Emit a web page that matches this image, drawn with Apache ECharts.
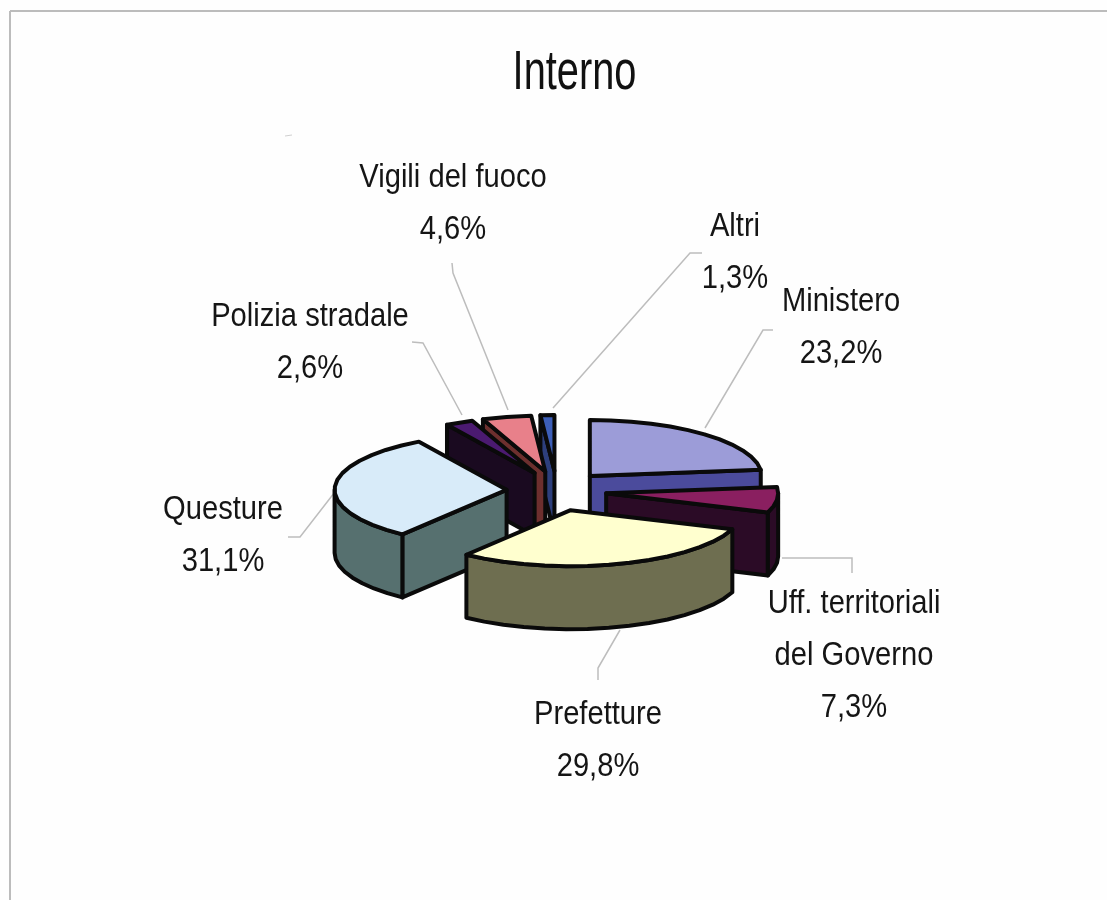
<!DOCTYPE html>
<html><head><meta charset="utf-8">
<style>html,body{margin:0;padding:0;background:#fff}#c{width:1107px;height:900px}</style>
<script src="https://cdn.jsdelivr.net/npm/echarts@6/dist/echarts.min.js"></script>
</head><body><div id="c"></div>
<script>
// ---- data ----
const categories = ['Ministero', 'Uff. territoriali\ndel Governo', 'Prefetture', 'Questure', 'Polizia stradale', 'Vigili del fuoco', 'Altri'];
const shares = [23.2, 7.3, 29.8, 31.1, 2.6, 4.6, 1.3];
// ---- styles ----
const topColors  = ['#9c9cd8', '#8a1f60', '#ffffcf', '#d8ebf9', '#4b1a70', '#e8808a', '#3d5fb8'];
const sideColors = ['#4b4b9c', '#2b0b26', '#6e6e50', '#56706f', '#1a0a20', '#6d2f2e', '#2d3f7c'];
const depthRank  = [0, 4, 6, 5, 3, 2, 1];
// label anchors (centre of the text block) and leader-line routes
const labelAt = [[841, 328], [854, 656], [598, 741], [223, 536], [310, 343], [453, 204], [735, 253]];
const leaders = [
  [[773,330],[763,330],[705,428]],
  [[782,558],[852,558],[852,573]],
  [[620,630],[598,668],[598,680]],
  [[338,488],[300,537],[288,537]],
  [[412,342],[423,343],[462,415]],
  [[452,263],[453,273],[508,410]],
  [[702,253],[690,253],[553,408]]
];
// 3-D projection of the exploded pie
const cx = 556.5, cy = 491, rx = 172, ry = 56, ex = 50, ey = 20, depth = 63, stepDeg = 7;
const total = shares.reduce(function (a, b) { return a + b; }, 0);
const rad = Math.PI / 180;

function pt(ax, ay, r, deg, dz) {
  return [ax + r * rx * Math.sin(deg * rad), ay - r * ry * Math.cos(deg * rad) + (dz || 0)];
}
function arc(ax, ay, a, b, dz) {
  const out = [];
  const n = Math.max(1, Math.round((b - a) / stepDeg));
  for (let i = 0; i <= n; i++) out.push(pt(ax, ay, 1, a + (b - a) * i / n, dz));
  return out;
}
const strokeStyle = function (fill) {
  return { fill: fill, stroke: '#0a0a0a', lineWidth: 4, lineJoin: 'round' };
};
function poly(points, fill, z) {
  return { type: 'polygon', shape: { points: points }, style: strokeStyle(fill), z2: z };
}

function renderItem(params, api) {
  const i = params.dataIndex;
  let before = 0;
  for (let k = 0; k < i; k++) before += shares[k];
  const val = api.value(0);
  const a = before / total * 360, b = (before + val) / total * 360, mid = (a + b) / 2;
  const ax = cx + ex * Math.sin(mid * rad), ay = cy - ey * Math.cos(mid * rad);
  const base = 10 + depthRank[i] * 10;
  const kids = [];

  // radial cut faces that look toward the viewer
  const faceAt = function (deg, z) {
    const o = pt(ax, ay, 1, deg);
    kids.push(poly([[ax, ay], o, [o[0], o[1] + depth], [ax, ay + depth]], sideColors[i], z));
  };
  if (Math.sin(a * rad) < 0) faceAt(a, base);
  if (Math.sin(b * rad) > 0) faceAt(b, base);

  // outer wall: only the front half of the rim
  const wa = Math.max(a, 90), wb = Math.min(b, 270);
  if (wb > wa) {
    const t = arc(ax, ay, wa, wb, 0), u = arc(ax, ay, wa, wb, depth).reverse();
    kids.push(poly(t.concat(u), sideColors[i], base + 1));
  }
  // top face
  kids.push(poly([[ax, ay]].concat(arc(ax, ay, a, b, 0)), topColors[i], base + 2));

  // leader and label
  kids.push({ type: 'polyline', shape: { points: leaders[i] }, style: { fill: null, stroke: '#bdbdbd', lineWidth: 1.5 }, z2: 1 });
  kids.push({
    type: 'text', x: labelAt[i][0], y: labelAt[i][1], scaleX: 0.87, z2: 200,
    style: {
      text: api.value(1) + '\n' + val.toFixed(1).replace('.', ',') + '%',
      fill: '#151515', align: 'center', verticalAlign: 'middle',
      fontFamily: '"Liberation Sans", Arial, sans-serif', fontSize: 33.5, lineHeight: 52
    }
  });
  return { type: 'group', children: kids };
}

const chart = echarts.init(document.getElementById('c'), null, { renderer: 'canvas', width: 1107, height: 900 });
const frame = { stroke: '#bcbcbc', lineWidth: 2 };
chart.setOption({
  animation: false,
  backgroundColor: '#fefefe',
  graphic: [
    { type: 'line', shape: { x1: 10, y1: 11, x2: 1107, y2: 11 }, style: frame },
    { type: 'line', shape: { x1: 10, y1: 11, x2: 10, y2: 900 }, style: frame },
    { type: 'line', shape: { x1: 285, y1: 136, x2: 292, y2: 135 }, style: { stroke: '#d0d0d0', lineWidth: 1 } },
    { type: 'text', x: 574.5, y: 74, scaleX: 0.71, style: {
        text: 'Interno', fill: '#111', align: 'center', verticalAlign: 'middle',
        fontFamily: '"Liberation Sans", Arial, sans-serif', fontSize: 56 } }
  ],
  series: [{
    type: 'custom',
    coordinateSystem: 'none',
    silent: true,
    renderItem: renderItem,
    data: categories.map(function (c, i) { return { name: c, value: [shares[i], c] }; }),
    dimensions: [{ name: 'share', type: 'number' }, { name: 'category', type: 'ordinal' }]
  }]
});
</script></body></html>
